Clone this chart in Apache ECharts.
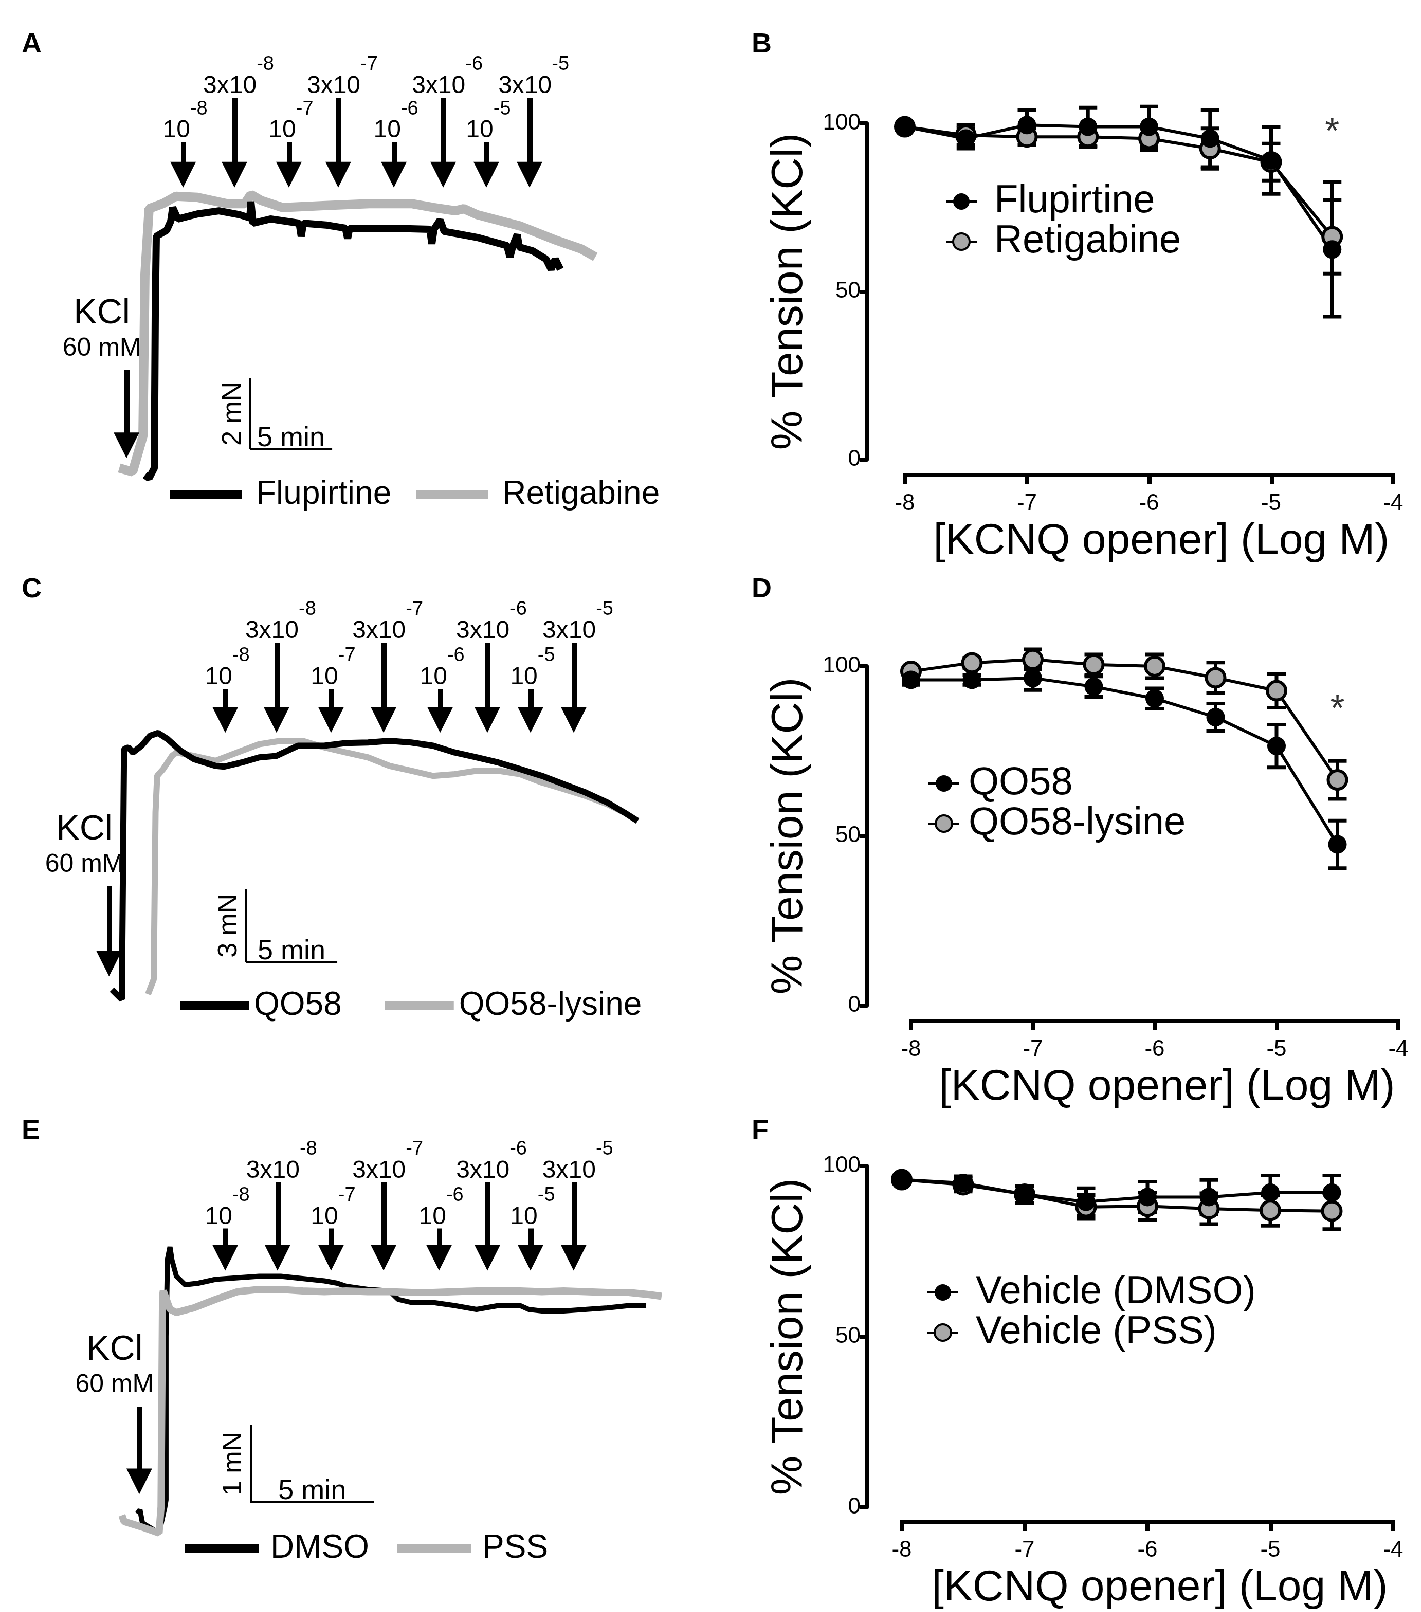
<!DOCTYPE html>
<html>
<head>
<meta charset="utf-8">
<script src="https://cdn.jsdelivr.net/npm/echarts@6.0.0/dist/echarts.min.js"></script>
<style>
  html, body { margin: 0; padding: 0; background: #fff; }
  body { width: 1421px; height: 1612px; position: relative; }
  /* layout was measured on a 1382 px wide copy of the figure */
  #page { position: absolute; left: 0; top: 0; width: 1382px; height: 1568px; transform: scale(1.0282); transform-origin: 0 0; }
  .panel { position: absolute; }
</style>
</head>
<body>
<div id="page">
  <div class="panel" id="chart-a" style="left:0;top:0;width:710px;height:540px"></div>
  <div class="panel" id="chart-b" style="left:710px;top:0;width:672px;height:560px"></div>
  <div class="panel" id="chart-c" style="left:0;top:540px;width:710px;height:530px"></div>
  <div class="panel" id="chart-d" style="left:710px;top:540px;width:672px;height:560px"></div>
  <div class="panel" id="chart-e" style="left:0;top:1070px;width:710px;height:498px"></div>
  <div class="panel" id="chart-f" style="left:710px;top:1070px;width:672px;height:498px"></div>
</div>
<script>
// ---- data ----
// cumulative concentrations, log M
var logConc = [-8, -7.5, -7, -6.5, -6, -5.5, -5, -4.5];
var xTicks = [-8, -7, -6, -5, -4];
var yTicks = [0, 50, 100];

// B: % tension, mean and sem
var flupirtineMean = [99, 95.5, 99.5, 99, 99, 95.5, 89, 62.5];
var flupirtineSem = [1, 3, 4.5, 5.7, 6, 8.5, 10, 20];
var retigabineMean = [99, 96.5, 96, 96, 95.5, 92.5, 88.5, 66.3];
var retigabineSem = [1, 3, 2.5, 3, 3.5, 6, 5.5, 11];
var starB = [[-4.5, 97]];

// D
var qo58Mean = [96, 96, 96.5, 94, 90.5, 85, 76.5, 47.5];
var qo58Sem = [1.5, 1.5, 3.5, 3, 3, 4, 6.3, 7];
var lysineMean = [98.5, 101, 102, 100.5, 100, 96.6, 92.8, 66.5];
var lysineSem = [1, 1.5, 3, 3, 3.5, 4.5, 5, 5.6];
var starD = [[-4.5, 87]];

// F
var dmsoMean = [96, 95, 91.7, 89.5, 90.9, 90.9, 92.2, 92.2];
var dmsoSem = [1, 2, 2.5, 4, 4.5, 5, 5, 5];
var pssMean = [96, 94.5, 91.7, 88, 88.2, 87.5, 87, 86.8];
var pssSem = [1, 2, 2.5, 3.5, 4, 4.5, 4.5, 5.3];

// labels over the addition arrows
var doseBase = ['10', '3x10', '10', '3x10', '10', '3x10', '10', '3x10'];
var doseExp = ['-8', '-8', '-7', '-7', '-6', '-6', '-5', '-5'];

// addition times (min)
var doseTimeA = [4.88, 8.0, 11.31, 14.31, 17.69, 20.69, 23.31, 25.94];
var doseTimeC = [6.69, 9.49, 12.47, 15.34, 18.43, 21.01, 23.37, 25.73];
var doseTimeE = [4.94, 7.05, 9.21, 11.33, 13.57, 15.52, 17.26, 19.0];

// tension traces [min, mN]
var flupirtineTrace = [[2.56,0.52],[2.81,0.43],[3.13,0.72],[3.19,5.22],[3.25,7.25],[3.88,7.42],[4.13,7.68],[4.25,8.06],[4.56,7.74],[5.75,7.88],[7.06,7.97],[8.31,7.86],[8.94,7.77],[9.0,8.23],[9.13,7.62],[10.19,7.74],[11.94,7.62],[12.06,7.25],[12.19,7.62],[13.56,7.57],[14.75,7.48],[14.88,7.19],[15.0,7.48],[17.5,7.48],[19.88,7.45],[20.0,7.04],[20.13,7.45],[20.5,7.71],[20.75,7.39],[21.44,7.33],[22.75,7.22],[24.56,6.99],[24.75,6.67],[24.94,7.01],[25.19,7.3],[25.31,6.95],[26.13,6.84],[26.94,6.61],[27.25,6.32],[27.5,6.61],[27.81,6.32]];
var retigabineTrace = [[1.0,0.72],[1.81,0.61],[2.44,1.62],[2.56,6.17],[2.81,8.03],[3.63,8.17],[4.44,8.38],[5.75,8.35],[7.56,8.17],[8.63,8.17],[9.0,8.43],[9.63,8.26],[10.94,8.06],[13.56,8.12],[16.19,8.17],[18.81,8.17],[20.13,8.06],[21.44,7.97],[21.94,8.03],[22.75,7.86],[25.38,7.54],[27.44,7.16],[29.06,6.9],[29.94,6.67]];
var qo58Trace = [[0.5,0.74],[1.04,0.34],[1.16,10.61],[1.4,10.68],[1.64,10.47],[2.12,10.75],[2.59,11.16],[3.02,11.27],[3.54,11.02],[4.25,10.54],[4.97,10.2],[6.16,9.92],[6.63,9.89],[7.58,10.06],[8.54,10.27],[9.48,10.33],[10.67,10.75],[12.1,10.75],[13.29,10.86],[14.48,10.88],[15.67,10.95],[16.85,10.88],[18.04,10.75],[19.23,10.47],[20.42,10.27],[21.61,10.06],[22.8,9.79],[23.99,9.51],[25.18,9.17],[26.37,8.83],[27.56,8.42],[28.51,8.0],[29.22,7.66]];
var lysineTrace = [[2.47,0.55],[2.78,1.16],[2.88,8.02],[2.97,9.51],[3.3,9.79],[3.78,10.33],[4.02,10.47],[4.97,10.33],[6.16,10.13],[7.35,10.47],[8.54,10.81],[9.72,10.95],[10.91,10.95],[12.1,10.68],[13.29,10.47],[14.48,10.27],[15.67,9.92],[16.85,9.72],[18.04,9.51],[19.23,9.58],[20.42,9.72],[21.61,9.72],[22.8,9.58],[23.99,9.24],[25.18,8.97],[26.37,8.69],[27.56,8.35],[28.51,8.0]];
var dmsoTrace = [[1.39,0.37],[1.5,0.42],[1.6,0.25],[2.27,0.12],[2.5,0.45],[2.55,0.55],[2.55,2.67],[2.61,3.67],[2.71,3.83],[2.79,3.66],[2.97,3.45],[3.32,3.34],[3.85,3.36],[4.55,3.41],[5.43,3.43],[6.31,3.45],[7.18,3.45],[8.06,3.42],[8.94,3.39],[9.46,3.36],[9.82,3.32],[10.69,3.28],[11.57,3.26],[11.92,3.15],[12.45,3.11],[13.33,3.11],[14.2,3.07],[15.08,3.02],[15.96,3.07],[16.84,3.07],[17.19,3.02],[17.72,3.0],[18.6,3.0],[19.47,3.02],[20.35,3.04],[21.23,3.07],[21.93,3.07]];
var pssTrace = [[0.77,0.35],[0.86,0.27],[1.56,0.2],[2.27,0.12],[2.35,0.46],[2.41,3.19],[2.44,3.26],[2.71,3.02],[2.97,2.98],[3.67,3.04],[4.55,3.15],[5.43,3.25],[6.31,3.28],[7.18,3.28],[8.06,3.26],[8.94,3.25],[9.82,3.26],[10.69,3.25],[11.57,3.25],[12.45,3.24],[13.33,3.24],[14.2,3.25],[15.08,3.26],[15.96,3.26],[16.84,3.26],[17.72,3.25],[18.6,3.26],[19.47,3.25],[20.35,3.24],[21.23,3.24],[22.11,3.21],[22.55,3.19]];

// ---- styles ----
var sans = "'Liberation Sans', Arial, sans-serif";
var grey = '#b4b4b4';

// superscript: push the base down and the exponent up with padding
var doseRich = {
    b: {fontSize: 24, fontFamily: sans, color: '#000', lineHeight: 26, padding: [18, 0, 0, 0]},
    s: {fontSize: 19, fontFamily: sans, color: '#000', lineHeight: 20, padding: [0, 0, 24, 0]}
};

function letterTitle(letter, top) {
    return {text: letter, left: 16, top: top, textStyle: {fontSize: 27, fontWeight: 'bold', color: '#000', fontFamily: sans}};
}

// trace panels (A, C, E)
function traceOption(cfg) {
    var marks = [];
    cfg.doseTime.forEach(function (t, i) {
        marks.push([
            {coord: [t, i % 2 ? cfg.longTop : cfg.shortTop],
             label: {show: true, position: 'start', distance: 7, offset: [i % 2 ? 4 : 2, 0],
                     formatter: '{b|' + doseBase[i] + '}{s|' + doseExp[i] + '}', rich: doseRich}},
            {coord: [t, cfg.tip]}
        ]);
    });
    marks.push([
        {coord: [cfg.kcl[0], cfg.kcl[1]],
         label: {show: true, position: 'start', distance: 6, offset: [-24, 0],
                 formatter: '{k|KCl}\n{m|60 mM}',
                 rich: {k: {fontSize: 34, lineHeight: 38, color: '#000', fontFamily: sans},
                        m: {fontSize: 25, lineHeight: 30, color: '#000', fontFamily: sans}}}},
        {coord: [cfg.kcl[0], cfg.kcl[2]]}
    ]);
    var b = cfg.bar;
    marks.push([
        {coord: [b[0], b[1]], symbol: 'none', lineStyle: {width: 2},
         label: {show: true, position: 'middle', distance: 3, formatter: b[2] + ' mN',
                 fontSize: 26, fontFamily: sans, color: '#000'}},
        {coord: [b[0], b[1] + b[2]], symbol: 'none'}
    ]);
    marks.push([
        {coord: [b[0], b[1]], symbol: 'none', lineStyle: {width: 2},
         label: {show: true, position: 'middle', distance: -3, formatter: b[3] + ' min',
                 fontSize: 27, fontFamily: sans, color: '#000'}},
        {coord: [b[0] + b[3], b[1]], symbol: 'none'}
    ]);

    var dark = {
        type: 'line', name: cfg.dark.name, data: cfg.dark.data, symbol: 'none', clip: false,
        lineStyle: {color: '#000', width: cfg.dark.width}, itemStyle: {color: '#000'},
        z: cfg.greyOnTop ? 2 : 3,
        markLine: {
            silent: true, animation: false, symbol: ['none', 'triangle'], symbolSize: 25,
            lineStyle: {color: '#000', width: 5, type: 'solid'},
            data: marks
        }
    };
    var light = {
        type: 'line', name: cfg.light.name, data: cfg.light.data, symbol: 'none', clip: false,
        lineStyle: {color: grey, width: cfg.light.width}, itemStyle: {color: grey},
        z: cfg.greyOnTop ? 3 : 2
    };
    return {
        animation: false,
        textStyle: {fontFamily: sans},
        title: letterTitle(cfg.letter, cfg.letterTop),
        legend: {
            data: [cfg.dark.name, cfg.light.name], selectedMode: false,
            left: cfg.legend[0], top: cfg.legend[1], itemGap: cfg.legend[2],
            icon: 'rect', itemWidth: cfg.legend[4], itemHeight: 9,
            textStyle: {fontSize: 32, color: '#000', fontFamily: sans, padding: [0, 0, 0, cfg.legend[3]]}
        },
        grid: Object.assign({outerBoundsMode: 'none'}, cfg.grid),
        xAxis: {type: 'value', min: 0, max: cfg.xMax, show: false},
        yAxis: {type: 'value', min: 0, max: cfg.yMax, show: false},
        series: [dark, light]
    };
}

function errorSeries(mean, sem) {
    var d = logConc.map(function (x, i) { return [x, mean[i] - sem[i], mean[i] + sem[i]]; });
    return {
        type: 'custom', silent: true, clip: false, data: d, encode: {x: 0, y: [1, 2]},
        renderItem: function (params, api) {
            var hi = api.coord([api.value(0), api.value(2)]);
            var lo = api.coord([api.value(0), api.value(1)]);
            var w = 9, st = {stroke: '#000', lineWidth: 3.5};
            return {type: 'group', children: [
                {type: 'line', shape: {x1: hi[0], y1: hi[1], x2: lo[0], y2: lo[1]}, style: st},
                {type: 'line', shape: {x1: hi[0] - w, y1: hi[1], x2: hi[0] + w, y2: hi[1]}, style: st},
                {type: 'line', shape: {x1: lo[0] - w, y1: lo[1], x2: lo[0] + w, y2: lo[1]}, style: st}
            ]};
        }
    };
}

function meanSeries(name, mean, fill) {
    return {
        type: 'line', name: name, clip: false,
        data: logConc.map(function (x, i) { return [x, mean[i]]; }),
        symbol: 'circle', symbolSize: 18, showAllSymbol: true,
        lineStyle: {color: '#000', width: 3},
        itemStyle: {color: fill, borderColor: '#000', borderWidth: fill === '#000' ? 0 : 3}
    };
}

// dose-response panels (B, D, F)
function doseOption(cfg) {
    var series = [
        errorSeries(cfg.light.mean, cfg.light.sem),
        errorSeries(cfg.dark.mean, cfg.dark.sem),
        meanSeries(cfg.light.name, cfg.light.mean, '#a8a8a8'),
        meanSeries(cfg.dark.name, cfg.dark.mean, '#000')
    ];
    if (cfg.star) {
        series.push({
            type: 'scatter', data: cfg.star, symbolSize: 1, silent: true, clip: false,
            itemStyle: {color: 'transparent'},
            label: {show: true, position: 'inside', formatter: '*', fontSize: 36, color: '#000', fontFamily: sans}
        });
    }
    return {
        animation: false,
        textStyle: {fontFamily: sans},
        title: letterTitle(cfg.letter, cfg.letterTop),
        legend: {
            data: [cfg.dark.name, cfg.light.name], selectedMode: false, orient: 'vertical',
            left: cfg.legend[0], top: cfg.legend[1], itemGap: 1,
            itemWidth: 30, itemHeight: 20,
            textStyle: {fontSize: 38, color: '#000', fontFamily: sans, padding: [0, 0, 0, cfg.legend[2]]}
        },
        grid: Object.assign({outerBoundsMode: 'none'}, cfg.grid),
        xAxis: {
            type: 'value', min: xTicks[0], max: xTicks[xTicks.length - 1], interval: xTicks[1] - xTicks[0],
            offset: cfg.xOffset, splitLine: {show: false},
            axisLine: {show: true, onZero: false, lineStyle: {color: '#000', width: 4}},
            axisTick: {show: true, length: 9, lineStyle: {color: '#000', width: 4}},
            axisLabel: {color: '#000', fontSize: 22, fontFamily: sans, margin: 17},
            name: '[KCNQ opener] (Log M)', nameLocation: 'middle', nameGap: 44,
            nameTextStyle: {fontSize: 42, color: '#000', fontFamily: sans, padding: [0, 0, 0, 24]}
        },
        yAxis: {
            type: 'value', min: yTicks[0], max: yTicks[yTicks.length - 1], interval: yTicks[1] - yTicks[0],
            offset: cfg.yOffset, splitLine: {show: false},
            axisLine: {show: true, lineStyle: {color: '#000', width: 4}},
            axisTick: {show: true, length: 7, lineStyle: {color: '#000', width: 4}},
            axisLabel: {color: '#000', fontSize: 22, fontFamily: sans, margin: 6},
            name: '% Tension (KCl)', nameLocation: 'middle', nameGap: 29,
            nameTextStyle: {fontSize: 43, color: '#000', fontFamily: sans}
        },
        series: series
    };
}

var hiDpi = {devicePixelRatio: 2};

var chartA = echarts.init(document.getElementById('chart-a'), null, hiDpi);
chartA.setOption(traceOption({
    letter: 'A', letterTop: 25,
    grid: {left: 100, top: 66, width: 560, height: 414}, xMax: 35, yMax: 12,
    dark: {name: 'Flupirtine', data: flupirtineTrace, width: 7},
    light: {name: 'Retigabine', data: retigabineTrace, width: 9},
    greyOnTop: false,
    doseTime: doseTimeA, tip: 8.99, shortTop: 9.91, longTop: 11.16,
    kcl: [1.44, 3.48, 1.36],
    bar: [8.94, 1.25, 2, 5],
    legend: [160, 460, 24, 9, 70]
}));

var chartB = echarts.init(document.getElementById('chart-b'), null, hiDpi);
chartB.setOption(doseOption({
    letter: 'B', letterTop: 25,
    grid: {left: 170, top: 120, width: 475, height: 327}, xOffset: 15, yOffset: 37,
    dark: {name: 'Flupirtine', mean: flupirtineMean, sem: flupirtineSem},
    light: {name: 'Retigabine', mean: retigabineMean, sem: retigabineSem},
    star: starB, legend: [204, 172, 12]
}));

var chartC = echarts.init(document.getElementById('chart-c'), null, hiDpi);
chartC.setOption(traceOption({
    letter: 'C', letterTop: 15,
    grid: {left: 100, top: 60.8, width: 551.8, height: 379.2}, xMax: 31, yMax: 16,
    dark: {name: 'QO58', data: qo58Trace, width: 6},
    light: {name: 'QO58-lysine', data: lysineTrace, width: 6},
    greyOnTop: false,
    doseTime: doseTimeC, tip: 11.81, shortTop: 13.08, longTop: 14.98,
    kcl: [0.34, 4.98, 1.81],
    bar: [7.81, 1.86, 3, 5],
    legend: [170, 417, 42, 0, 67]
}));

var chartD = echarts.init(document.getElementById('chart-d'), null, hiDpi);
chartD.setOption(doseOption({
    letter: 'D', letterTop: 15,
    grid: {left: 176, top: 108, width: 474, height: 330}, xOffset: 15, yOffset: 43,
    dark: {name: 'QO58', mean: qo58Mean, sem: qo58Sem},
    light: {name: 'QO58-lysine', mean: lysineMean, sem: lysineSem},
    star: starD, legend: [187, 198, 4]
}));

var chartE = echarts.init(document.getElementById('chart-e'), null, hiDpi);
chartE.setOption(traceOption({
    letter: 'E', letterTop: 12,
    grid: {left: 100, top: 55, width: 554.3, height: 375}, xMax: 23, yMax: 5,
    dark: {name: 'DMSO', data: dmsoTrace, width: 5},
    light: {name: 'PSS', data: pssTrace, width: 7},
    greyOnTop: true,
    doseTime: doseTimeE, tip: 3.69, shortTop: 4.07, longTop: 4.67,
    kcl: [1.47, 1.76, 0.79],
    bar: [5.95, 0.52, 1, 5],
    legend: [175, 415, 27, 6, 72]
}));

var chartF = echarts.init(document.getElementById('chart-f'), null, hiDpi);
chartF.setOption(doseOption({
    letter: 'F', letterTop: 12,
    grid: {left: 167, top: 64, width: 478, height: 332}, xOffset: 14, yOffset: 34,
    dark: {name: 'Vehicle (DMSO)', mean: dmsoMean, sem: dmsoSem},
    light: {name: 'Vehicle (PSS)', mean: pssMean, sem: pssSem},
    star: null, legend: [186, 163, 12]
}));
</script>
</body>
</html>
